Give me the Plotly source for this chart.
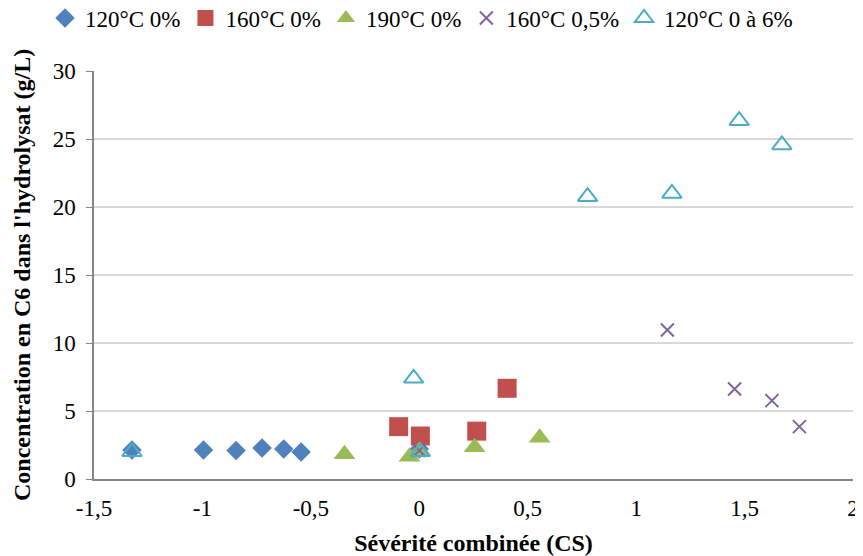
import plotly.graph_objects as go

# Data
blue_x = [-1.325, -0.995, -0.845, -0.725, -0.625, -0.545, 0.0]
blue_y = [2.13, 2.13, 2.1, 2.28, 2.2, 1.99, 2.2]
red_x = [-0.095, 0.005, 0.265, 0.405]
red_y = [3.85, 3.16, 3.52, 6.67]
green_x = [-0.345, -0.045, 0.0, 0.255, 0.555]
green_y = [1.82, 1.64, 2.05, 2.33, 3.04]
purple_x = [0.0, 1.144, 1.454, 1.626, 1.753]
purple_y = [2.1, 10.96, 6.62, 5.76, 3.85]
cyan_x = [-1.325, -0.026, 0.005, 0.776, 1.165, 1.475, 1.672]
cyan_y = [2.0, 7.4, 2.0, 20.76, 21.0, 26.35, 24.56]

names = ["120°C 0%", "160°C 0%", "190°C 0%", "160°C 0,5%", "120°C 0 à 6%"]
x_ticks = [-1.5, -1, -0.5, 0, 0.5, 1, 1.5, 2]
x_tick_labels = ["-1,5", "-1", "-0,5", "0", "0,5", "1", "1,5", "2"]
y_ticks = [0, 5, 10, 15, 20, 25, 30]
x_title = "Sévérité combinée (CS)"
y_title = "Concentration en C6 dans l'hydrolysat (g/L)"

FONT = "Liberation Serif"
# page has an 8px body margin, so the figure is 8px smaller than the window
W, H = 855, 548
L, R, T, B = 86, 10, 63, 77
PW = W - L - R

fig = go.Figure()
fig.add_trace(go.Scatter(x=blue_x, y=blue_y, mode="markers", name=names[0],
                         marker=dict(symbol="diamond", size=15, color="#4F81BD",
                                     line=dict(width=0))))
fig.add_trace(go.Scatter(x=red_x, y=red_y, mode="markers", name=names[1],
                         marker=dict(symbol="square", size=19, color="#C0504D",
                                     line=dict(width=0))))
fig.add_trace(go.Scatter(x=green_x, y=green_y, mode="markers", name=names[2],
                         marker=dict(symbol="triangle-up", size=19, color="#9BBB59",
                                     line=dict(width=0))))
fig.add_trace(go.Scatter(x=purple_x, y=purple_y, mode="markers", name=names[3],
                         marker=dict(symbol="x-thin-open", size=13, color="#8064A2",
                                     line=dict(width=2, color="#8064A2"))))
fig.add_trace(go.Scatter(x=cyan_x, y=cyan_y, mode="markers", name=names[4],
                         marker=dict(symbol="triangle-up-open", size=17, color="#4BACC6",
                                     line=dict(width=2, color="#4BACC6"))))

fig.add_annotation(text="<b>" + y_title + "</b>", textangle=-90,
                   xref="paper", yref="paper", x=(14 - L) / PW, y=0.5,
                   xanchor="center", yanchor="middle", showarrow=False,
                   font=dict(family=FONT, size=24, color="black"))

fig.update_layout(
    width=W, height=H,
    margin=dict(l=L, r=R, t=T, b=B, autoexpand=False),
    paper_bgcolor="white", plot_bgcolor="white",
    font=dict(family=FONT, size=23, color="black"),
    showlegend=True,
    legend=dict(orientation="h", xref="container", yref="container",
                x=37 / W, y=1 - 10 / H, xanchor="left", yanchor="middle",
                font=dict(family=FONT, size=23, color="black"),
                itemwidth=30, tracegroupgap=0),
    xaxis=dict(range=[-1.5, 2], tickvals=x_ticks, ticktext=x_tick_labels,
               showgrid=False, zeroline=False, showline=True, linecolor="#868686",
               linewidth=1.5, ticks="", ticklabelstandoff=8, automargin=False,
               tickfont=dict(family=FONT, size=23, color="black"),
               title=dict(text="<b>" + x_title + "</b>", standoff=16,
                          font=dict(family=FONT, size=24, color="black"))),
    yaxis=dict(range=[0, 30], tickvals=y_ticks, showgrid=True, gridcolor="#D9D9D9",
               gridwidth=1.5, zeroline=False, showline=True, linecolor="#868686",
               linewidth=1.5, ticks="outside", ticklen=6, tickcolor="#868686",
               ticklabelstandoff=6, automargin=False,
               tickfont=dict(family=FONT, size=23, color="black")),
)

fig.write_html("out.html")
